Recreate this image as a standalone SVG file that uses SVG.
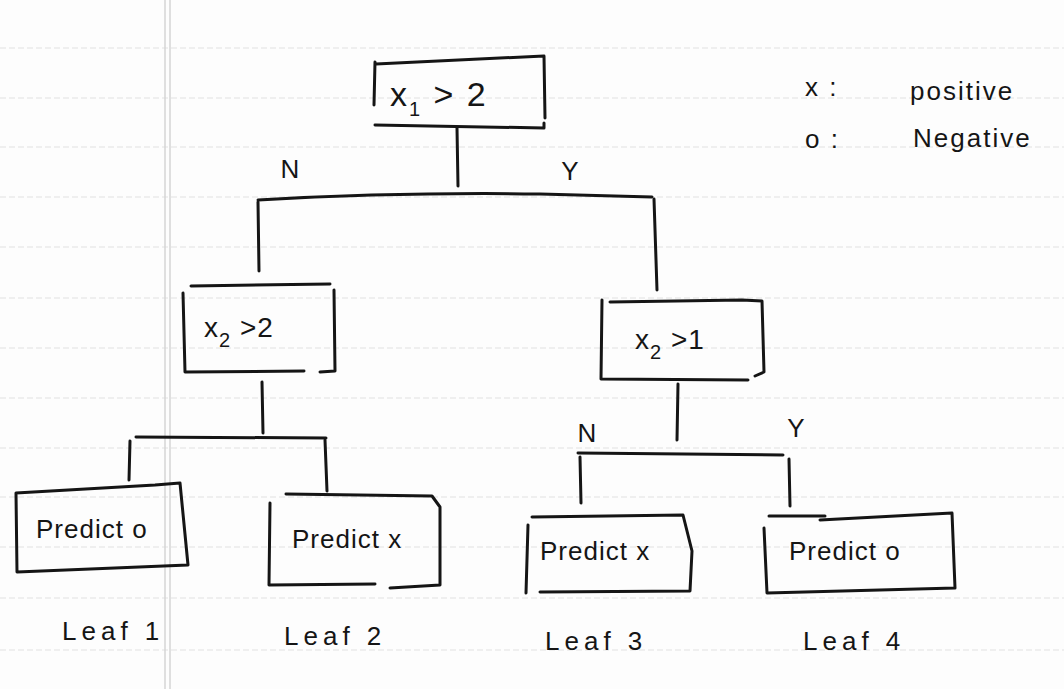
<svg xmlns="http://www.w3.org/2000/svg" width="1064" height="689" viewBox="0 0 1064 689">
<style>
.ink{fill:none;stroke:#151515;stroke-width:3;stroke-linecap:round;stroke-linejoin:round}
.rule{stroke:#e2e2e2;stroke-width:1.2;stroke-dasharray:6 3}
.margin{stroke:#d4d4d4;stroke-width:1.5}
.t{font-family:"Liberation Sans",Arial,sans-serif;fill:#151515}
.big{font-size:34px;letter-spacing:2px}
.mid{font-size:28px;letter-spacing:1px}
.pred{font-size:26px;letter-spacing:1px}
.lbl{font-size:26px}
.leaf{font-size:26px;letter-spacing:5px}
.leg{font-size:26px;letter-spacing:2px}
.sub{font-size:20px}
</style>
<rect width="1064" height="689" fill="#fdfdfd"/>
<g id="paper">
<line class="rule" x1="0" y1="48" x2="1064" y2="48"/>
<line class="rule" x1="0" y1="98" x2="1064" y2="98"/>
<line class="rule" x1="0" y1="147" x2="1064" y2="147"/>
<line class="rule" x1="0" y1="197" x2="1064" y2="197"/>
<line class="rule" x1="0" y1="247" x2="1064" y2="247"/>
<line class="rule" x1="0" y1="298" x2="1064" y2="298"/>
<line class="rule" x1="0" y1="348" x2="1064" y2="348"/>
<line class="rule" x1="0" y1="398" x2="1064" y2="398"/>
<line class="rule" x1="0" y1="448" x2="1064" y2="448"/>
<line class="rule" x1="0" y1="497" x2="1064" y2="497"/>
<line class="rule" x1="0" y1="547" x2="1064" y2="547"/>
<line class="rule" x1="0" y1="598" x2="1064" y2="598"/>
<line class="rule" x1="0" y1="650" x2="1064" y2="650"/>
<line class="margin" x1="165" y1="0" x2="165" y2="689"/>
<line class="margin" x1="170" y1="0" x2="170" y2="689"/>
</g>
<g id="connectors">
<path class="ink" d="M457 128 L458 186"/>
<path class="ink" d="M258 200 Q400 192 540 194 L652 197"/>
<path class="ink" d="M258 202 L259 271"/>
<path class="ink" d="M654 199 L657 290"/>
<path class="ink" d="M262 382 L263 433"/>
<path class="ink" d="M136 437 L326 438"/>
<path class="ink" d="M130 441 L129 480"/>
<path class="ink" d="M325 440 L327 491"/>
<path class="ink" d="M678 384 L677 440"/>
<path class="ink" d="M578 453 L783 455"/>
<path class="ink" d="M580 457 L581 503"/>
<path class="ink" d="M789 459 L790 506"/>
<text class="t lbl" x="290" y="178" text-anchor="middle">N</text>
<text class="t lbl" x="570" y="180" text-anchor="middle">Y</text>
<text class="t lbl" x="587" y="442" text-anchor="middle">N</text>
<text class="t lbl" x="796" y="437" text-anchor="middle">Y</text>
</g>
<g id="root">
<path class="ink" d="M376 64 L544 56 L545 118 M544 123 L544 128 L375 125 M375 62 L374 105"/>
<text class="t big" x="390" y="106">x<tspan class="sub" dy="10">1</tspan><tspan dy="-10"> &gt; 2</tspan></text>
</g>
<g id="split-left">
<path class="ink" d="M191 286 L330 284 M334 290 L335 371 L320 372 M183 293 L185 372 L304 371"/>
<text class="t mid" x="204" y="337">x<tspan class="sub" dy="10">2</tspan><tspan dy="-10"> &gt;2</tspan></text>
</g>
<g id="split-right">
<path class="ink" d="M610 302 L742 300 L762 301 L764 372 L755 376 M602 300 L601 379 L748 380"/>
<text class="t mid" x="635" y="349">x<tspan class="sub" dy="10">2</tspan><tspan dy="-10">  &gt;1</tspan></text>
</g>
<g id="leaf1">
<path class="ink" d="M16 493 L155 485 L180 483 L188 565 L17 572 Z"/>
<text class="t pred" x="36" y="538">Predict o</text>
<text class="t leaf" x="62" y="640">Leaf 1</text>
</g>
<g id="leaf2">
<path class="ink" d="M286 494 L432 496 L440 507 L440 585 L390 588 M375 584 L269 585 L270 503"/>
<text class="t pred" x="292" y="548">Predict x</text>
<text class="t leaf" x="284" y="645">Leaf 2</text>
</g>
<g id="leaf3">
<path class="ink" d="M532 517 L683 515 L692 551 L690 591 L540 592 M528 525 L526 593"/>
<text class="t pred" x="540" y="560">Predict x</text>
<text class="t leaf" x="545" y="650">Leaf 3</text>
</g>
<g id="leaf4">
<path class="ink" d="M769 516 L825 516 M820 520 L952 513 L955 588 L767 593 L764 528"/>
<text class="t pred" x="789" y="560">Predict o</text>
<text class="t leaf" x="803" y="650">Leaf 4</text>
</g>
<g id="legend">
<text class="t leg" x="805" y="96">x :</text>
<text class="t leg" x="805" y="148">o :</text>
<text class="t leg" x="910" y="100">positive</text>
<text class="t leg" x="913" y="147">Negative</text>
</g>
</svg>
